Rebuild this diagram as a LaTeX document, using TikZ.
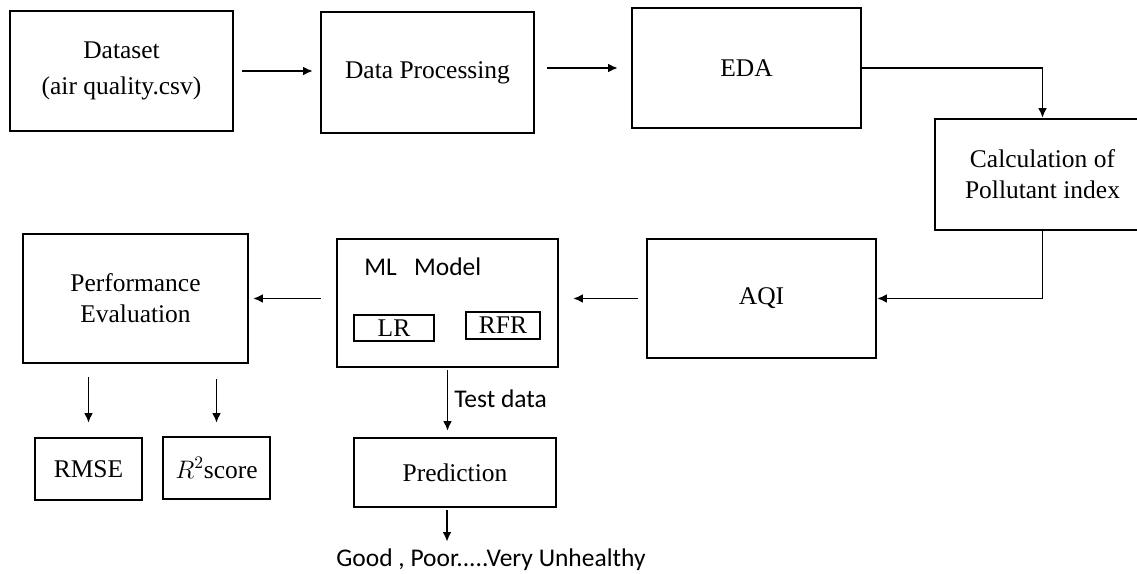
\documentclass[tikz,border=0pt]{standalone}
\usepackage{fontspec}
\setmainfont{Liberation Serif}
\newfontfamily\calibri{Carlito}
\usetikzlibrary{arrows.meta}

\begin{document}
\begin{tikzpicture}[x=0.02cm, y=-0.02cm]
\tikzstyle{box}=[draw, line width=1.3pt, inner sep=0pt, align=center, font=\fontsize{14.5}{17.5}\selectfont]
\tikzstyle{arr}=[line width=1.1pt, -{Latex[length=5.5pt, width=5pt]}]
\tikzstyle{sans}=[font=\calibri\fontsize{14.5}{17}\selectfont]
\useasboundingbox (0,0) rectangle (1137,574);

\node(ds)[box, minimum width=4.46cm, minimum height=2.40cm]   at ( 121.5,  71.0) {Dataset\\[3pt](air quality.csv)};
\node(dp)[box, minimum width=4.26cm, minimum height=2.42cm]   at ( 427.5,  72.5) {Data Processing};
\node(eda)[box, minimum width=4.58cm, minimum height=2.40cm]  at ( 746.5,  68.0) {EDA};
\node(calc)[box, minimum width=4.30cm, minimum height=2.22cm] at (1042.5, 174.5) {Calculation of\\Pollutant index};
\node(aqi)[box, minimum width=4.58cm, minimum height=2.38cm]  at ( 761.5, 298.5) {AQI};
\node(ml)[box, minimum width=4.42cm, minimum height=2.56cm]   at ( 447.5, 303.0) {};
\node(mlt)[sans, anchor=west, inner sep=0pt]                   at ( 364.0, 267.0) {ML~~~Model};
\node(lr)[box, minimum width=1.60cm, minimum height=0.52cm]   at ( 394.0, 328.0) {LR};
\node(rfr)[box, minimum width=1.48cm, minimum height=0.54cm]  at ( 503.0, 325.5) {RFR};
\node(pe)[box, minimum width=4.50cm, minimum height=2.58cm]   at ( 135.5, 298.5) {Performance\\Evaluation};
\node(rmse)[box, minimum width=2.14cm, minimum height=1.24cm] at (  88.5, 469.0) {RMSE};
\node(rsq)[box, minimum width=2.14cm, minimum height=1.24cm]  at ( 216.5, 468.0) {$R^2$score};
\node(pred)[box, minimum width=4.04cm, minimum height=1.38cm] at ( 455.0, 472.5) {Prediction};
\node(out)[sans, inner sep=0pt]                                at ( 491.0, 560.0) {Good , Poor.....Very Unhealthy};

\draw[arr, shorten <=0.16cm, shorten >=0.14cm] (ds.east) -- (ds.east -| dp.west);
\draw[arr, shorten <=0.24cm, shorten >=0.26cm] (dp.east |- eda.west) -- (eda.west);
\draw[arr] (eda.east) -| (calc.north);
\draw[arr] (calc.south) |- (aqi.east);
\draw[arr, shorten <=0.16cm, shorten >=0.28cm] (aqi.west) -- (aqi.west -| ml.east);
\draw[arr, shorten <=0.30cm, shorten >=0.08cm] (ml.west |- pe.east) -- (pe.east);
\draw[arr, shorten <=0.26cm, shorten >=0.28cm] (pe.south -| rmse.north) -- (rmse.north);
\draw[arr, shorten <=0.30cm, shorten >=0.26cm] (pe.south -| rsq.north) -- (rsq.north);
\draw[arr, shorten <=0.04cm, shorten >=0.12cm] (ml.south) -- (ml.south |- pred.north)
    node[sans, right, pos=0.45] {Test data};
\draw[arr, shorten <=0.04cm, shorten >=0.14cm] ([xshift=-0.16cm]pred.south) -- ([xshift=-0.16cm]pred.south |- out.north);

\end{tikzpicture}
\end{document}
